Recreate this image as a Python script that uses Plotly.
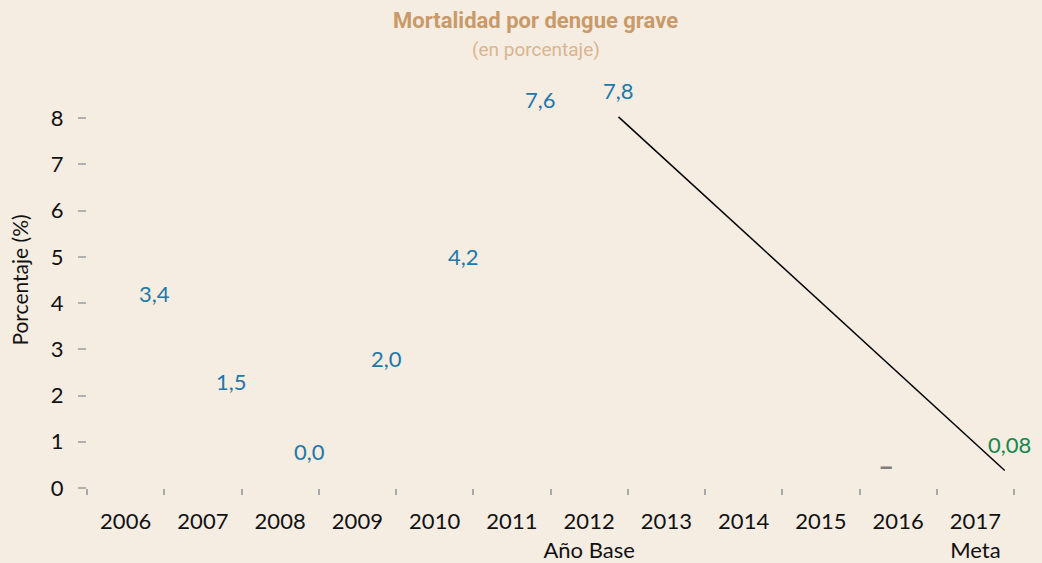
import plotly.graph_objects as go

COLORS = {
    "bg": "#f5ece2",
    "title": "#c99a69",
    "subtitle": "#dab58f",
    "blue": "#2178a8",
    "green": "#14874a",
    "grey": "#7f7f7f",
    "text": "#111111",
}

years = ["2006", "2007", "2008", "2009", "2010", "2011", "2012",
         "2013", "2014", "2015", "2016", "2017"]
year_labels = years[:6] + ["2012<br>Año Base"] + years[7:11] + ["2017<br>Meta"]

obs_years = ["2006", "2007", "2008", "2009", "2010", "2011", "2012"]
obs_values = [3.4, 1.5, 0.0, 2.0, 4.2, 7.6, 7.8]
obs_text = ["3,4", "1,5", "0,0", "2,0", "4,2", "7,6", "7,8"]

goal_year = "2017"
goal_value = 0.08
goal_text = "0,08"

nodata_year = "2016"
nodata_value = 0.45

trend_years = ["2012", "2017"]
trend_values = [8.03, 0.38]

idx = {y: i for i, y in enumerate(years)}
FONT = "Lato, 'Open Sans', sans-serif"

fig = go.Figure()
fig.add_trace(go.Scatter(
    x=[idx[y] + 0.38 for y in trend_years],
    y=trend_values,
    mode="lines",
    line=dict(color="#000000", width=1.5),
    hoverinfo="skip",
))

annotations = []
for y, v, t in zip(obs_years, obs_values, obs_text):
    annotations.append(dict(x=idx[y], y=v, text=t, showarrow=False,
                            xshift=29, yshift=37,
                            font=dict(color=COLORS["blue"], size=22, family=FONT)))
annotations.append(dict(x=idx[goal_year], y=goal_value, text=goal_text, showarrow=False,
                        xshift=34, yshift=40,
                        font=dict(color=COLORS["green"], size=22, family=FONT)))
annotations.append(dict(x=idx[nodata_year], y=nodata_value, text="<b>–</b>", showarrow=False,
                        xshift=-12, yshift=-1,
                        font=dict(color=COLORS["grey"], size=22, family="Roboto, sans-serif")))
# title and subtitle
annotations.append(dict(xref="paper", yref="paper", x=0.484, y=1,
                        text="<b>Mortalidad por dengue grave</b>", showarrow=False,
                        yshift=52, xanchor="center", yanchor="middle",
                        font=dict(family="Roboto, sans-serif", size=22, color=COLORS["title"])))
annotations.append(dict(xref="paper", yref="paper", x=0.484, y=1,
                        text="(en porcentaje)", showarrow=False,
                        yshift=23, xanchor="center", yanchor="middle",
                        font=dict(family="Roboto, sans-serif", size=19, color=COLORS["subtitle"])))

fig.update_layout(
    paper_bgcolor=COLORS["bg"],
    plot_bgcolor=COLORS["bg"],
    width=1042, height=563,
    margin=dict(l=87, r=28, t=72, b=75, autoexpand=False),
    showlegend=False,
    font=dict(family=FONT, color=COLORS["text"], size=22),
    xaxis=dict(
        range=[-0.5, 11.5],
        tickmode="array",
        tickvals=list(range(len(years))),
        ticktext=year_labels,
        ticks="",
        showgrid=False, zeroline=False, showline=False,
        automargin=False,
        ticklabelstandoff=18,
        tickfont=dict(size=22),
        minor=dict(tickmode="array",
                   tickvals=[i - 0.5 for i in range(len(years) + 1)],
                   ticks="outside", ticklen=6, tickwidth=2,
                   tickcolor="#a8a8a8", showgrid=False),
    ),
    yaxis=dict(
        range=[0, 9],
        tickvals=[0, 1, 2, 3, 4, 5, 6, 7, 8],
        ticks="outside", ticklen=8, tickwidth=2, tickcolor="#b0b0b0",
        showgrid=False, zeroline=False, showline=False,
        automargin=False,
        tickfont=dict(size=22),
        ticklabelstandoff=10,
        title=dict(text="Porcentaje (%)", font=dict(size=21), standoff=16),
    ),
    annotations=annotations,
)

fig.write_html(
    "out.html",
    config={"displayModeBar": False},
    post_script="document.body.style.margin='0';document.body.style.background='%s';" % COLORS["bg"],
)
